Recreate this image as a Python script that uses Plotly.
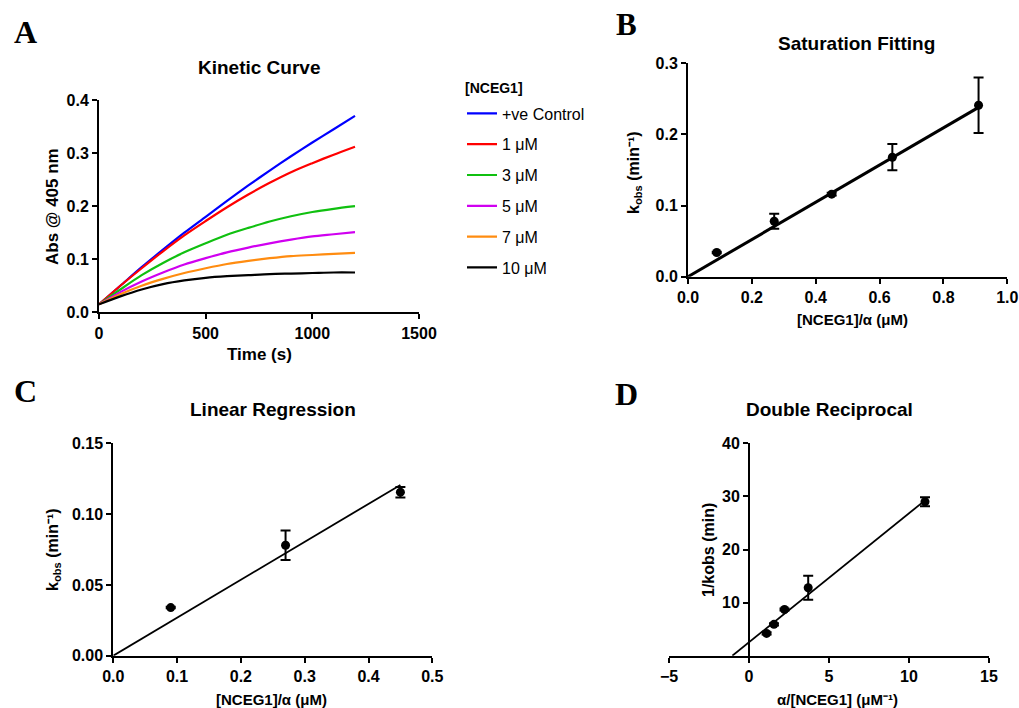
import plotly.graph_objects as go

# ---------------- Data ----------------
# Panel A: kinetic curves
time_s = [0, 100, 200, 300, 400, 500, 600, 700, 800, 900, 1000, 1100, 1200]
abs_control = [0.015, 0.050, 0.085, 0.118, 0.150, 0.180, 0.210, 0.239, 0.267, 0.294, 0.320, 0.345, 0.370]
abs_1uM = [0.015, 0.050, 0.083, 0.115, 0.145, 0.172, 0.198, 0.222, 0.244, 0.264, 0.281, 0.297, 0.312]
abs_3uM = [0.015, 0.043, 0.070, 0.093, 0.113, 0.130, 0.146, 0.159, 0.171, 0.181, 0.189, 0.195, 0.200]
abs_5uM = [0.015, 0.038, 0.058, 0.075, 0.090, 0.102, 0.113, 0.122, 0.130, 0.137, 0.143, 0.147, 0.151]
abs_7uM = [0.015, 0.034, 0.050, 0.063, 0.074, 0.083, 0.091, 0.097, 0.102, 0.106, 0.108, 0.110, 0.112]
abs_10uM = [0.015, 0.030, 0.043, 0.053, 0.060, 0.065, 0.068, 0.070, 0.072, 0.073, 0.074, 0.075, 0.075]
curve_names = ["+ve Control", "1 μM", "3 μM", "5 μM", "7 μM", "10 μM"]
curve_colors = ["#0000ff", "#ff0000", "#10c010", "#d000f0", "#ff8c10", "#000000"]

# Panel B: saturation fitting
b_x = [0.09, 0.27, 0.45, 0.64, 0.91]
b_y = [0.034, 0.078, 0.116, 0.168, 0.241]
b_err = [0.001, 0.0105, 0.002, 0.0185, 0.039]
b_fit_x = [0.0, 0.91]
b_fit_y = [0.0, 0.238]

# Panel C: linear regression
c_x = [0.09, 0.27, 0.45]
c_y = [0.034, 0.078, 0.1155]
c_err = [0.0005, 0.0105, 0.0037]
c_fit_x = [0.0, 0.45]
c_fit_y = [0.0, 0.1206]

# Panel D: double reciprocal
d_x = [1.10, 1.56, 2.22, 3.70, 11.0]
d_y = [4.2, 5.9, 8.7, 12.8, 29.0]
d_err = [0.2, 0.2, 0.2, 2.25, 0.85]
d_fit_x = [-1.04, 11.0]
d_fit_y = [0.0, 29.25]

# ---------------- Figure ----------------
W, H = 1019, 708
FONT = "Arial, Liberation Sans, sans-serif"
SERIF = "Times New Roman, Liberation Serif, serif"

def px_x(p):
    return p / W

def px_y(p):
    return 1 - p / H

fig = go.Figure()

for name, col, ys in zip(curve_names, curve_colors,
                         [abs_control, abs_1uM, abs_3uM, abs_5uM, abs_7uM, abs_10uM]):
    fig.add_trace(go.Scatter(x=time_s, y=ys, mode="lines", name=name,
                             line=dict(color=col, width=2.2, shape="spline", smoothing=0.8),
                             legendgroup=name, xaxis="x", yaxis="y"))

def add_points(x, y, err, xa, ya):
    fig.add_trace(go.Scatter(x=x, y=y, mode="markers", showlegend=False,
                             marker=dict(color="black", size=9),
                             error_y=dict(type="data", array=err, visible=True,
                                          color="black", thickness=2, width=5),
                             cliponaxis=False, xaxis=xa, yaxis=ya))

def add_fit(x, y, xa, ya, w):
    fig.add_trace(go.Scatter(x=x, y=y, mode="lines", showlegend=False,
                             line=dict(color="black", width=w),
                             xaxis=xa, yaxis=ya))

add_fit(b_fit_x, b_fit_y, "x2", "y2", 3)
add_points(b_x, b_y, b_err, "x2", "y2")
add_fit(c_fit_x, c_fit_y, "x3", "y3", 1.8)
add_points(c_x, c_y, c_err, "x3", "y3")
add_fit(d_fit_x, d_fit_y, "x4", "y4", 1.8)
add_points(d_x, d_y, d_err, "x4", "y4")

tickfont = dict(family=FONT, size=16, color="black", weight="bold")
axis_common = dict(showgrid=False, zeroline=False, showline=True, linecolor="black",
                   linewidth=2, ticks="outside", ticklen=5, tickwidth=2,
                   tickcolor="black", tickfont=tickfont, fixedrange=True,
                   automargin=False)

fig.update_layout(
    width=W, height=H,
    margin=dict(l=0, r=0, t=0, b=0, autoexpand=False),
    paper_bgcolor="white", plot_bgcolor="white",
    font=dict(family=FONT, color="black"),
    xaxis=dict(domain=[px_x(99), px_x(419)], range=[0, 1500],
               tickvals=[0, 500, 1000, 1500], anchor="y", **axis_common),
    yaxis=dict(domain=[px_y(312.3), px_y(100)], range=[0, 0.4],
               tickvals=[0, 0.1, 0.2, 0.3, 0.4], tickformat=".1f", anchor="x", **axis_common),
    xaxis2=dict(domain=[px_x(688), px_x(1007.3)], range=[0, 1.0],
                tickvals=[0, 0.2, 0.4, 0.6, 0.8, 1.0], tickformat=".1f", anchor="y2", **axis_common),
    yaxis2=dict(domain=[px_y(276.7), px_y(63.3)], range=[0, 0.3],
                tickvals=[0, 0.1, 0.2, 0.3], tickformat=".1f", anchor="x2", **axis_common),
    xaxis3=dict(domain=[px_x(113.3), px_x(432.3)], range=[0, 0.5],
                tickvals=[0, 0.1, 0.2, 0.3, 0.4, 0.5], tickformat=".1f", anchor="y3", **axis_common),
    yaxis3=dict(domain=[px_y(655.7), px_y(443.3)], range=[0, 0.15],
                tickvals=[0, 0.05, 0.10, 0.15], tickformat=".2f", anchor="x3", **axis_common),
    xaxis4=dict(domain=[px_x(669), px_x(989)], range=[-5, 15],
                tickvals=[-5, 0, 5, 10, 15], anchor="y4", **axis_common),
    yaxis4=dict(domain=[px_y(655.7), px_y(443.3)], range=[0, 40],
                tickvals=[10, 20, 30, 40], anchor="free", position=px_x(749), **axis_common),
    legend=dict(x=px_x(462), y=px_y(96.5), xanchor="left", yanchor="top",
                font=dict(family=FONT, size=16, color="black"),
                traceorder="grouped", tracegroupgap=7, itemwidth=30,
                bgcolor="rgba(0,0,0,0)"),
)

annotations = []

def ann(text, x, y, size, angle=0, family=FONT, bold=True, xanchor="center"):
    annotations.append(dict(text=text, x=px_x(x), y=px_y(y), xref="paper", yref="paper",
                            showarrow=False, textangle=angle, xanchor=xanchor, yanchor="middle",
                            font=dict(family=family, size=size, color="black",
                                      weight="bold" if bold else "normal")))

# panel letters
ann("A", 25, 32, 32, family=SERIF)
ann("B", 626, 24, 31, family=SERIF)
ann("C", 25, 391, 32, family=SERIF)
ann("D", 626, 394, 32, family=SERIF)
# titles
ann("Kinetic Curve", 259, 67, 19)
ann("Saturation Fitting", 856, 43, 19)
ann("Linear Regression", 273, 409, 19)
ann("Double Reciprocal", 829, 409, 19)
# legend title
ann("[NCEG1]", 463, 88, 14, xanchor="left")
# axis titles
ann("Time (s)", 259, 355, 17)
ann("Abs @ 405 nm", 52, 207, 17, angle=-90)
ann("[NCEG1]/α (μM)", 852, 319, 15)
ann("k<sub>obs</sub> (min⁻¹)", 635, 173, 16, angle=-90)
ann("[NCEG1]/α (μM)", 271, 699, 15)
ann("k<sub>obs</sub> (min⁻¹)", 53, 550, 16, angle=-90)
ann("α/[NCEG1] (μM⁻¹)", 837, 699, 15)
ann("1/kobs (min)", 708, 550, 16, angle=-90)

fig.update_layout(annotations=annotations)

# remove the default page margin so the 1019x708 figure fills the window exactly
fig.write_html("out.html", config={"displayModeBar": False},
               post_script="document.body.style.margin='0px';document.body.style.overflow='hidden';")
